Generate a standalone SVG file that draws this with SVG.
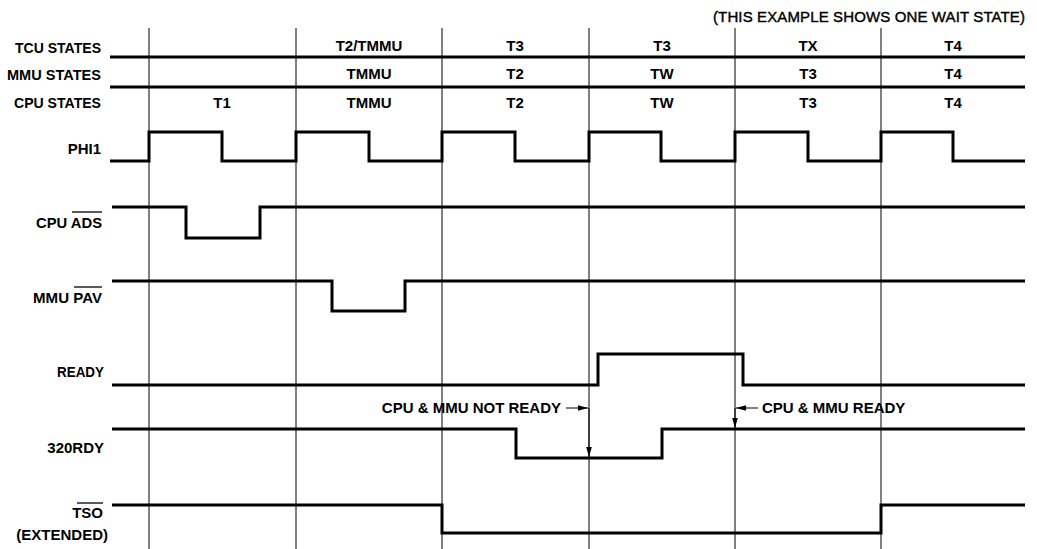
<svg xmlns="http://www.w3.org/2000/svg" width="1037" height="549" viewBox="0 0 1037 549">
<style>
.grid{stroke:#000;stroke-width:1;fill:none}
.sig{stroke:#000;stroke-width:3;fill:none;stroke-linejoin:miter}
.lbl{font-family:"Liberation Sans",Arial,sans-serif;font-weight:bold;font-size:15px;fill:#000}
.st{font-family:"Liberation Sans",Arial,sans-serif;font-weight:bold;font-size:15px;fill:#000;text-anchor:middle}
.ann{font-family:"Liberation Sans",Arial,sans-serif;font-weight:bold;font-size:15px;fill:#000}
.ttl{font-family:"Liberation Sans",Arial,sans-serif;font-size:15px;fill:#000;stroke:#000;stroke-width:0.4}
.ol{stroke:#000;stroke-width:1.3}
</style>
<defs>
<marker id="ah" markerWidth="11" markerHeight="8" refX="10" refY="4" orient="auto" markerUnits="userSpaceOnUse">
<path d="M0,1.2 L10,4 L0,6.8 Z" fill="#000"/>
</marker>
</defs>
<rect width="1037" height="549" fill="#fff"/>
<g id="grid">
<line class="grid" x1="149" y1="28" x2="149" y2="549"/>
<line class="grid" x1="296" y1="28" x2="296" y2="549"/>
<line class="grid" x1="442" y1="28" x2="442" y2="549"/>
<line class="grid" x1="589" y1="28" x2="589" y2="549"/>
<line class="grid" x1="735" y1="28" x2="735" y2="549"/>
<line class="grid" x1="881" y1="28" x2="881" y2="549"/>
</g>
<g id="title"><text class="ttl" x="713" y="22" textLength="312" lengthAdjust="spacing">(THIS EXAMPLE SHOWS ONE WAIT STATE)</text></g>
<g id="states">
<line class="sig" x1="110" y1="57" x2="1025" y2="57"/>
<line class="sig" x1="110" y1="87" x2="1025" y2="87"/>
<text class="lbl" x="101" y="53" text-anchor="end" textLength="86" lengthAdjust="spacingAndGlyphs">TCU STATES</text>
<text class="lbl" x="101" y="80" text-anchor="end" textLength="94" lengthAdjust="spacingAndGlyphs">MMU  STATES</text>
<text class="lbl" x="101" y="108" text-anchor="end" textLength="87" lengthAdjust="spacingAndGlyphs">CPU STATES</text>
<text class="st" x="369" y="51">T2/TMMU</text>
<text class="st" x="515" y="51">T3</text>
<text class="st" x="662" y="51">T3</text>
<text class="st" x="808" y="51">TX</text>
<text class="st" x="953" y="51">T4</text>
<text class="st" x="369" y="79">TMMU</text>
<text class="st" x="515" y="79">T2</text>
<text class="st" x="662" y="79">TW</text>
<text class="st" x="808" y="79">T3</text>
<text class="st" x="953" y="79">T4</text>
<text class="st" x="222" y="108">T1</text>
<text class="st" x="369" y="108">TMMU</text>
<text class="st" x="515" y="108">T2</text>
<text class="st" x="662" y="108">TW</text>
<text class="st" x="808" y="108">T3</text>
<text class="st" x="953" y="108">T4</text>
</g>
<g id="phi1">
<text class="lbl" x="101" y="154" text-anchor="end">PHI1</text>
<polyline class="sig" points="110,161 149,161 149,132 222,132 222,161 296,161 296,132 369,132 369,161 442,161 442,132 515,132 515,161 589,161 589,132 661,132 661,161 735,161 735,132 808,132 808,161 881,161 881,132 953,132 953,161 1025,161"/>
</g>
<g id="ads">
<text class="lbl" x="102" y="228" text-anchor="end" textLength="66" lengthAdjust="spacingAndGlyphs">CPU ADS</text>
<line class="ol" x1="72" y1="212" x2="102" y2="212"/>
<polyline class="sig" points="112,207 186,207 186,238 260,238 260,207 1025,207"/>
</g>
<g id="pav">
<text class="lbl" x="102" y="303" text-anchor="end" textLength="69" lengthAdjust="spacingAndGlyphs">MMU PAV</text>
<line class="ol" x1="74" y1="287" x2="102" y2="287"/>
<polyline class="sig" points="112,281 332,281 332,311 405,311 405,281 1025,281"/>
</g>
<g id="ready">
<text class="lbl" x="104" y="377" text-anchor="end" textLength="47" lengthAdjust="spacingAndGlyphs">READY</text>
<polyline class="sig" points="112,385 598,385 598,354 743,354 743,385 1025,385"/>
</g>
<g id="rdy320">
<text class="lbl" x="104" y="453" text-anchor="end">320RDY</text>
<polyline class="sig" points="112,429 516,429 516,458 662,458 662,429 1025,429"/>
</g>
<g id="tso">
<text class="lbl" x="103" y="518" text-anchor="end">TSO</text>
<line class="ol" x1="77" y1="503" x2="103" y2="503"/>
<text class="lbl" x="108" y="540" text-anchor="end">(EXTENDED)</text>
<polyline class="sig" points="112,505 442,505 442,533 881,533 881,505 1025,505"/>
</g>
<g id="connectors">
<line class="grid" x1="566" y1="408" x2="588" y2="408" marker-end="url(#ah)"/>
<line class="grid" x1="589" y1="408" x2="589" y2="457" marker-end="url(#ah)"/>
<line class="grid" x1="758" y1="408" x2="736" y2="408" marker-end="url(#ah)"/>
<line class="grid" x1="735" y1="408" x2="735" y2="428" marker-end="url(#ah)"/>
<text class="ann" x="561" y="413" text-anchor="end">CPU &amp; MMU NOT READY</text>
<text class="ann" x="762" y="413">CPU &amp; MMU READY</text>
</g>
</svg>
